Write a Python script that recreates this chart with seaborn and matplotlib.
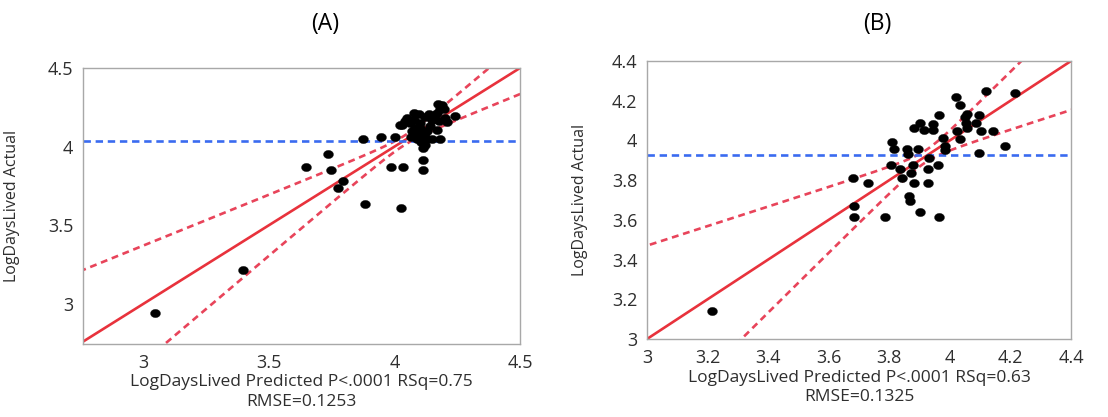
import numpy as np
import pandas as pd
import matplotlib
matplotlib.use("Agg")
import matplotlib.pyplot as plt
from matplotlib.path import Path
import seaborn as sns

# ---------------- data ----------------
# Panel A: predicted (x) and actual (y)
a_pred = [3.046, 3.394, 3.645, 3.734, 3.748, 3.773, 3.795, 3.873, 3.883, 3.947,
          4.000, 3.985, 4.032, 4.024, 4.113, 4.113, 4.115, 4.180, 4.240, 4.210,
          4.096, 4.136, 4.169, 4.189, 4.196, 4.050, 4.076, 4.030, 4.103, 4.150,
          4.176, 4.169, 4.083, 4.096, 4.110, 4.130, 4.150, 4.123, 4.090, 4.060,
          4.120, 4.140, 4.105, 4.070, 4.180, 4.120, 4.160, 4.200, 4.130, 4.040,
          4.076, 4.023, 4.175, 4.100, 4.065]
a_act = [2.940, 3.217, 3.870, 3.951, 3.849, 3.739, 3.783, 4.045, 3.637, 4.062,
         4.062, 3.870, 3.870, 3.609, 3.913, 3.852, 3.992, 4.045, 4.192, 4.158,
         4.210, 4.210, 4.214, 4.262, 4.236, 4.180, 4.172, 4.140, 4.150, 4.172,
         4.161, 4.108, 4.119, 4.087, 4.066, 4.045, 4.045, 4.013, 4.045, 4.150,
         4.190, 4.130, 4.030, 4.100, 4.240, 4.060, 4.200, 4.180, 4.100, 4.160,
         4.214, 4.140, 4.270, 4.120, 4.060]

# Panel B
b_pred = [3.213, 3.679, 3.684, 3.684, 3.731, 3.786, 3.810, 3.816, 3.806, 3.834,
          3.843, 3.858, 3.863, 3.866, 3.867, 3.871, 3.878, 3.880, 3.883, 3.896,
          3.902, 3.902, 3.913, 3.931, 3.927, 3.929, 3.944, 3.944, 3.962, 3.965,
          3.965, 3.976, 3.985, 3.985, 4.020, 4.023, 4.034, 4.034, 4.051, 4.058,
          4.056, 4.054, 4.087, 4.095, 4.103, 4.095, 4.119, 4.144, 4.183, 4.216]
b_act = [3.141, 3.809, 3.669, 3.616, 3.787, 3.616, 3.990, 3.955, 3.876, 3.854,
         3.812, 3.955, 3.931, 3.721, 3.695, 3.834, 3.876, 3.787, 4.064, 3.955,
         3.641, 4.086, 4.052, 3.914, 3.854, 3.787, 4.082, 4.052, 3.876, 3.616,
         4.128, 4.013, 3.971, 3.951, 4.220, 4.047, 4.007, 4.178, 4.119, 4.133,
         4.065, 4.089, 4.086, 4.128, 4.047, 3.935, 4.250, 4.047, 3.971, 4.237]

titles = ["(A)", "(B)"]
xlabels = ["LogDaysLived Predicted P<.0001 RSq=0.75\nRMSE=0.1253",
           "LogDaysLived Predicted P<.0001 RSq=0.63\nRMSE=0.1325"]
ylabel = "LogDaysLived Actual"
mean_actual = [4.034, 3.927]
# confidence-curve parameters: centre, half-width at centre, widening rate
band_center = [4.04, 3.92]
band_w0 = [0.03, 0.03]
band_k = [0.355, 0.51]

a_xticks = [3, 3.5, 4, 4.5]
a_xticklabels = ["3", "3.5", "4", "4.5"]
a_yticks = [3, 3.5, 4, 4.5]
a_yticklabels = ["3", "3.5", "4", "4.5"]
b_ticks = [3, 3.2, 3.4, 3.6, 3.8, 4, 4.2, 4.4]
b_ticklabels = ["3", "3.2", "3.4", "3.6", "3.8", "4", "4.2", "4.4"]

# ---------------- style ----------------
sns.set_style("white")
plt.rcParams['font.family'] = ['Open Sans', 'DejaVu Sans']

W, H = 1108, 417
fig = plt.figure(figsize=(W / 100, H / 100), dpi=100)

def box(l, r, t, b):
    return [l / W, 1 - b / H, (r - l) / W, (b - t) / H]

axA = fig.add_axes(box(83, 520, 68, 344))
axB = fig.add_axes(box(647, 1071, 61, 339))

red = "#E8323C"
red_d = "#E8445A"
blue = "#3A6BF0"
spine_c = "#A8A8A8"
txt_c = "#2E2E2E"

# slightly wide elliptical dot (the source image is stretched horizontally)
th = np.linspace(0, 2 * np.pi, 40)
ellipse = Path(np.column_stack([1.2 * np.cos(th), np.sin(th)]), closed=True)

panels = [
    (axA, a_pred, a_act, (2.758, 4.5), (2.743, 4.5)),
    (axB, b_pred, b_act, (3.0, 4.4), (3.0, 4.4)),
]

for i, (ax, xp, ya, xl, yl) in enumerate(panels):
    df = pd.DataFrame({"pred": xp, "act": ya})
    xs = np.linspace(xl[0] - 0.1, xl[1] + 0.1, 400)
    half = np.sqrt(band_w0[i] ** 2 + (band_k[i] * (xs - band_center[i])) ** 2)
    ax.plot(xs, xs, color=red, lw=1.9, zorder=2)
    ax.plot(xs, xs + half, color=red_d, lw=1.9, ls=(0, (2.6, 1.8)), zorder=2)
    ax.plot(xs, xs - half, color=red_d, lw=1.9, ls=(0, (2.6, 1.8)), zorder=2)
    ax.axhline(mean_actual[i], color=blue, lw=1.9, ls=(0, (2.8, 1.8)), zorder=2)
    sns.scatterplot(data=df, x="pred", y="act", ax=ax, color="black", s=52,
                    marker=ellipse, edgecolor="black", linewidth=0.2, zorder=3,
                    legend=False)
    ax.set_xlim(*xl)
    ax.set_ylim(*yl)
    for sp in ax.spines.values():
        sp.set_visible(True)
        sp.set_color(spine_c)
        sp.set_linewidth(1.0)
    ax.tick_params(axis="both", which="major", direction="out", length=5, width=1,
                   color=spine_c, labelcolor=txt_c, labelsize=13, pad=2)
    ax.tick_params(axis="both", which="minor", direction="out", length=3, width=1,
                   color=spine_c)
    ax.set_xlabel(xlabels[i], fontsize=12.5, color=txt_c, linespacing=1.3, labelpad=2)
    ax.set_ylabel(ylabel, fontsize=11.5, color=txt_c)

axA.set_xticks(a_xticks)
axA.set_xticklabels(a_xticklabels)
axA.set_yticks(a_yticks)
axA.set_yticklabels(a_yticklabels)
axA.set_xticks([3.25, 3.75, 4.25], minor=True)
axA.set_yticks([2.75, 3.25, 3.75, 4.25], minor=True)
axB.set_xticks(b_ticks)
axB.set_xticklabels(b_ticklabels)
axB.set_yticks(b_ticks)
axB.set_yticklabels(b_ticklabels)

axA.yaxis.set_label_coords(-0.145, 0.5)
axB.yaxis.set_label_coords(-0.14, 0.5)

fig.text(325 / W, 1 - 24 / H, titles[0], fontsize=16.5, ha="center", va="center", color="black")
fig.text(877 / W, 1 - 24 / H, titles[1], fontsize=16.5, ha="center", va="center", color="black")

fig.savefig("out.png", dpi=100)
